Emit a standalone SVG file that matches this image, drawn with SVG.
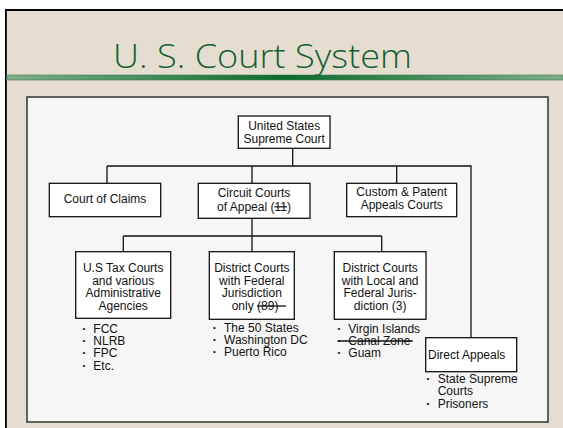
<svg xmlns="http://www.w3.org/2000/svg" width="563" height="428" viewBox="0 0 563 428">
<style>
.t{font-family:"Liberation Sans",Arial,sans-serif;font-size:12px;fill:#111}
.c{text-anchor:middle}
.b{fill:#fff;stroke:#111;stroke-width:1.3}
.ln{stroke:#111;stroke-width:1.3;fill:none}
.bu{font-size:8px}
.st{text-decoration:line-through}
</style>
<defs>
<linearGradient id="gl" x1="0" y1="0" x2="1" y2="0">
<stop offset="0" stop-color="#7fae8b"/>
<stop offset="0.35" stop-color="#2f8048"/>
<stop offset="0.5" stop-color="#0c6a2e"/>
<stop offset="0.65" stop-color="#2f8048"/>
<stop offset="1" stop-color="#7fae8b"/>
</linearGradient>
</defs>
<rect x="0" y="0" width="563" height="428" fill="#ffffff"/>
<rect x="5" y="10" width="558" height="418" fill="#e5ddd0"/>
<rect x="5" y="9" width="558" height="2" fill="#000"/>
<rect x="5" y="9" width="1.8" height="419" fill="#000"/>
<rect x="6.8" y="75" width="556.2" height="5" fill="url(#gl)" stroke="#3d7a50" stroke-width="0.6"/>
<text x="262.5" y="68" font-family="Open Sans, sans-serif" font-weight="300" font-size="33" fill="#16602f" text-anchor="middle" textLength="299" lengthAdjust="spacingAndGlyphs">U. S. Court System</text>
<rect x="27" y="97" width="521" height="325" fill="#f6f6f6" stroke="#333" stroke-width="1.5"/>

<g id="connectors">
<path class="ln" d="M292.7 148.3V166M107 166H471V337.7M107 166V183.3M252 166V183.3M396.7 166V183.3"/>
<path class="ln" d="M252 218.3V236M123.3 236H381.7M123.3 236V251.7M252 236V251.7M381.7 236V251.7"/>
</g>

<g id="supreme">
<rect class="b" x="238.3" y="116" width="91.7" height="32.3"/>
<text class="t c" x="284.2" y="129.5">United States</text>
<text class="t c" x="284.2" y="142.5">Supreme Court</text>
</g>
<g id="claims">
<rect class="b" x="49.3" y="183.3" width="111.4" height="33.4"/>
<text class="t c" x="105" y="202.5">Court of Claims</text>
</g>
<g id="circuit">
<rect class="b" x="198.3" y="183.3" width="111.7" height="35"/>
<text class="t c" x="254" y="197">Circuit Courts</text>
<text class="t c" x="254" y="210.5">of Appeal (<tspan class="st">11</tspan>)</text>
</g>
<g id="custom">
<rect class="b" x="346.7" y="183.3" width="110" height="33.4"/>
<text class="t c" x="401.7" y="195.5">Custom &amp; Patent</text>
<text class="t c" x="401.7" y="208.5">Appeals Courts</text>
</g>
<g id="tax">
<rect class="b" x="75.7" y="251.7" width="95" height="66.6"/>
<text class="t c" x="123.2" y="272">U.S Tax Courts</text>
<text class="t c" x="123.2" y="284.7">and various</text>
<text class="t c" x="123.2" y="297.4">Administrative</text>
<text class="t c" x="123.2" y="310.1">Agencies</text>
<text class="t" y="332.6"><tspan class="bu" x="82.5" dy="-2">•</tspan><tspan x="93.3" dy="2">FCC</tspan></text>
<text class="t" y="344.8"><tspan class="bu" x="82.5" dy="-2">•</tspan><tspan x="93.3" dy="2">NLRB</tspan></text>
<text class="t" y="357.4"><tspan class="bu" x="82.5" dy="-2">•</tspan><tspan x="93.3" dy="2">FPC</tspan></text>
<text class="t" y="369.6"><tspan class="bu" x="82.5" dy="-2">•</tspan><tspan x="93.3" dy="2">Etc.</tspan></text>
</g>
<g id="federal">
<rect class="b" x="209.3" y="251.7" width="85" height="67.6"/>
<text class="t c" x="251.8" y="272">District Courts</text>
<text class="t c" x="251.8" y="284.7">with Federal</text>
<text class="t c" x="251.8" y="297.4">Jurisdiction</text>
<text class="t" x="231.7" y="310.1">only (89)</text>
<line class="ln" x1="257" y1="306" x2="286" y2="306" stroke-width="1.1"/>
<text class="t" y="331.6"><tspan class="bu" x="213" dy="-2">•</tspan><tspan x="224" dy="2">The 50 States</tspan></text>
<text class="t" y="343.8"><tspan class="bu" x="213" dy="-2">•</tspan><tspan x="224" dy="2">Washington DC</tspan></text>
<text class="t" y="356.4"><tspan class="bu" x="213" dy="-2">•</tspan><tspan x="224" dy="2">Puerto Rico</tspan></text>
</g>
<g id="local">
<rect class="b" x="334.3" y="251.7" width="91.7" height="67.6"/>
<text class="t c" x="380.2" y="272">District Courts</text>
<text class="t c" x="380.2" y="284.7">with Local and</text>
<text class="t c" x="380.2" y="297.4">Federal Juris-</text>
<text class="t c" x="380.2" y="310.1">diction (3)</text>
<text class="t" y="332.6"><tspan class="bu" x="337.5" dy="-2">•</tspan><tspan x="348.3" dy="2">Virgin Islands</tspan></text>
<text class="t" y="344.8"><tspan class="bu" x="337.5" dy="-2">•</tspan><tspan x="348.3" dy="2">Canal Zone</tspan></text>
<line class="ln" x1="337.7" y1="341" x2="412.7" y2="341" stroke-width="1.2"/>
<text class="t" y="357.4"><tspan class="bu" x="337.5" dy="-2">•</tspan><tspan x="348.3" dy="2">Guam</tspan></text>
</g>
<g id="direct">
<rect class="b" x="425.7" y="337.7" width="91" height="34"/>
<text class="t" x="428" y="358.8">Direct Appeals</text>
<text class="t" y="382.8"><tspan class="bu" x="426.5" dy="-2">•</tspan><tspan x="437.7" dy="2">State Supreme</tspan></text>
<text class="t" x="437.7" y="395.2">Courts</text>
<text class="t" y="407.8"><tspan class="bu" x="426.5" dy="-2">•</tspan><tspan x="437.7" dy="2">Prisoners</tspan></text>
</g>
</svg>
